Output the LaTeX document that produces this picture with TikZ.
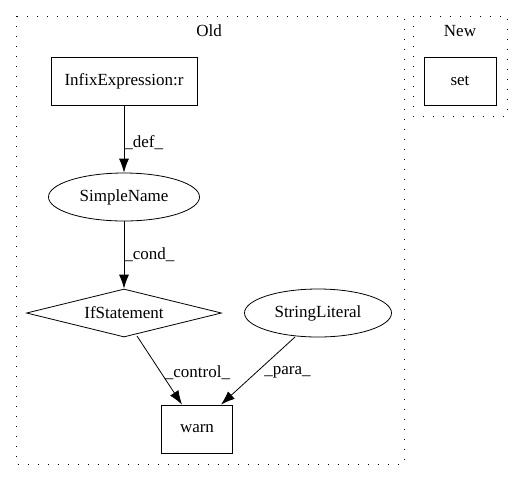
\documentclass[tikz,border=0pt]{standalone}
\usepackage{fontspec}
\setmainfont{Liberation Serif}
\usetikzlibrary{shapes.geometric,arrows.meta}
\begin{document}
\begin{tikzpicture}[x=1pt,y=-1pt,
  every node/.style={font=\fontsize{17}{19}\selectfont, inner sep=0pt},
  box/.style={draw, rectangle, line width=0.8pt},
  oval/.style={draw, ellipse, line width=0.8pt},
  dia/.style={draw, diamond, aspect=4, line width=0.8pt},
  cluster/.style={draw, line width=1pt, dash pattern=on 1.2pt off 8.8pt},
  edge/.style={draw, line width=0.8pt, -{Latex[length=14pt,width=10pt]}},
  lbl/.style={anchor=west}]
\useasboundingbox (0,0) rectangle (527,480);
\draw[cluster] (16,16) rectangle (404,464);
\draw[cluster] (413,16) rectangle (507,116);
\node (old) at (209,31) {Old};
\node (new) at (460,31) {New};
\node[box, minimum width=146pt, minimum height=48pt] (infix) at (124,81) {InfixExpression:r};
\node[box, minimum width=72pt, minimum height=48pt] (set) at (460,81) {set};
\node[oval, minimum width=151pt, minimum height=48pt] (sn) at (124,197) {SimpleName};
\node[dia, minimum width=195pt, minimum height=48pt] (if) at (124,313) {IfStatement};
\node[oval, minimum width=147pt, minimum height=48pt] (sl) at (318,313) {StringLiteral};
\node[box, minimum width=71pt, minimum height=48pt] (warn) at (197,429) {warn};
\draw[edge] (infix) -- (sn) node[lbl, pos=0.5, yshift=-4pt] {\_def\_};
\draw[edge] (sn) -- (if) node[lbl, pos=0.5] {\_cond\_};
\draw[edge] (137,336) -- (warn.north -| 182,0) node[lbl, pos=0.5, xshift=5pt, yshift=-2pt] {\_control\_};
\draw[edge] (295,337) -- (warn.north -| 221,0) node[lbl, pos=0.5, xshift=6pt, yshift=-1pt] {\_para\_};
\end{tikzpicture}
\end{document}
